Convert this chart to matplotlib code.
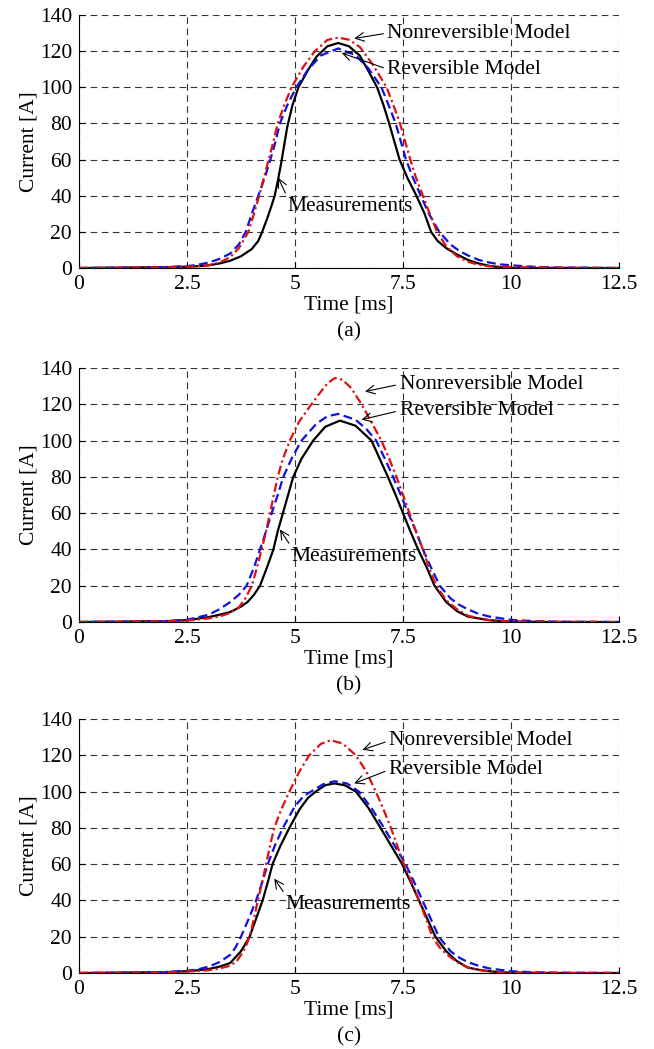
#!/usr/bin/env python3
# -*- coding: utf-8 -*-

import matplotlib
matplotlib.use("Agg")
import matplotlib.pyplot as plt

plt.rcParams['font.family'] = ['Liberation Serif', 'DejaVu Serif']
plt.rcParams['font.size'] = 15.5

# ---- panel (a) ----
a_meas_t = [0, 1, 2, 2.5, 2.75, 3.0, 3.25, 3.5, 3.75, 4.0, 4.15, 4.24, 4.35, 4.45, 4.53, 4.6,
            4.68, 4.75, 4.82, 4.94, 5.08, 5.3, 5.5, 5.75, 6.0, 6.25, 6.5, 6.7, 6.9, 7.05,
            7.18, 7.3, 7.42, 7.6, 7.81, 8.0, 8.15, 8.3, 8.5, 8.75, 9.0, 9.25, 9.5, 9.75,
            10, 11, 12.5]
a_meas_i = [0, 0.2, 0.5, 0.7, 1, 1.5, 2.5, 4, 6.5, 10.5, 15, 20, 27, 34, 40, 48,
            58, 68, 78, 90, 100, 109.5, 117, 122.7, 124.5, 122.7, 117.5, 109, 100, 90,
            80, 70, 60, 50, 40, 30, 20, 15, 11, 7.5, 4.5, 2.5, 1.2, 0.4,
            0, 0, 0]
a_nonrev_t = [0, 1, 2, 2.5, 3.0, 3.25, 3.5, 3.7, 3.8, 3.92, 4.05, 4.17, 4.28, 4.39, 4.5,
              4.6, 4.75, 4.92, 5.2, 5.45, 5.75, 6.0, 6.25, 6.5, 6.8, 7.12, 7.28, 7.43,
              7.55, 7.67, 7.8, 7.96, 8.12, 8.29, 8.5, 8.75, 9.0, 9.25, 9.5, 10, 11, 12.5]
a_nonrev_i = [0, 0.2, 0.4, 0.7, 1.5, 3, 6, 11, 15, 20, 30, 40, 50, 60, 70,
              80, 90, 100, 111.6, 119.7, 126.2, 127.5, 126.3, 122.3, 112.6, 100, 90, 80,
              70, 60, 50, 40, 30, 20, 12, 6.5, 3.5, 1.8, 1, 0.5, 0.2, 0]
a_rev_t = [0, 1, 2, 2.5, 2.75, 3.0, 3.25, 3.5, 3.7, 3.86, 4.0, 4.15, 4.3, 4.43, 4.55,
           4.65, 4.82, 5.03, 5.3, 5.6, 6.0, 6.4, 6.7, 7.0, 7.17, 7.33, 7.45, 7.57, 7.73,
           7.91, 8.1, 8.34, 8.6, 8.8, 9.0, 9.25, 9.5, 9.75, 10, 10.5, 11, 12.5]
a_rev_i = [0, 0.2, 0.5, 1, 1.8, 3, 5, 8, 13, 20, 30, 40, 50, 60, 70,
           80, 90, 100, 109.7, 117.6, 121.5, 117.8, 110.4, 100, 90, 80, 70, 60, 50,
           40, 30, 20, 13, 9.5, 7, 4.5, 3, 2, 1.5, 0.7, 0.3, 0]

# ---- panel (b) ----
b_meas_t = [0, 1, 2, 2.5, 3.0, 3.25, 3.5, 3.75, 3.9, 4.05, 4.19, 4.35, 4.5, 4.6, 4.72,
            4.84, 4.96, 5.15, 5.42, 5.7, 6.04, 6.4, 6.77, 6.96, 7.15, 7.33, 7.5, 7.67,
            7.85, 8.05, 8.23, 8.5, 8.75, 9.0, 9.5, 10, 11, 12.5]
b_meas_i = [0, 0.2, 0.5, 1, 2.7, 4, 5.5, 8.5, 11, 15, 20, 30, 40, 50, 60,
            70, 80, 90, 100, 107.6, 111, 108.2, 100, 90, 80, 70, 60, 50,
            40, 30, 20, 11, 6, 3, 1, 0.2, 0, 0]
b_nonrev_t = [0, 1, 2, 2.5, 3.0, 3.25, 3.5, 3.7, 3.85, 4.0, 4.12, 4.23, 4.33, 4.42, 4.51,
              4.6, 4.72, 4.88, 5.1, 5.38, 5.6, 5.75, 5.92, 6.1, 6.3, 6.54, 6.75, 7.0,
              7.18, 7.35, 7.5, 7.65, 7.8, 7.96, 8.1, 8.27, 8.5, 8.75, 9.0, 9.25, 9.5,
              10, 11, 12.5]
b_nonrev_i = [0, 0.2, 0.4, 0.8, 2, 3, 5, 8, 13, 20, 30, 40, 50, 60, 70,
              80, 90, 100, 110.6, 120, 127, 131.5, 134.5, 133.5, 129, 120, 111, 100,
              90, 80, 70, 60, 50, 40, 30, 20, 12, 7, 3.5, 2, 1,
              0.3, 0.1, 0]
b_rev_t = [0, 1, 2, 2.5, 3.0, 3.25, 3.5, 3.7, 3.88, 4.05, 4.19, 4.33, 4.46, 4.6, 4.73,
           4.92, 5.15, 5.5, 5.75, 6.0, 6.4, 6.65, 6.88, 7.08, 7.27, 7.45, 7.62, 7.8,
           7.96, 8.15, 8.35, 8.6, 8.8, 9.0, 9.25, 9.5, 10, 10.5, 11, 12.5]
b_rev_i = [0, 0.2, 0.5, 1.2, 4, 7, 11, 15, 20, 30, 40, 50, 60, 70, 80,
           90, 100, 109.4, 113.4, 114.7, 111.5, 106.4, 100, 90, 80, 70, 60, 50,
           40, 30, 20, 13, 9.5, 7, 4.5, 3, 1.2, 0.5, 0.2, 0]

# ---- panel (c) ----
c_meas_t = [0, 1, 2, 2.5, 2.75, 3.0, 3.25, 3.5, 3.75, 3.95, 4.1, 4.25, 4.37, 4.48, 4.66,
            4.87, 5.1, 5.3, 5.48, 5.7, 5.91, 6.15, 6.41, 6.7, 6.98, 7.23, 7.48, 7.68,
            7.87, 8.06, 8.25, 8.5, 8.75, 9.0, 9.25, 9.5, 9.75, 10, 11, 12.5]
c_meas_i = [0, 0.2, 0.5, 1, 1.5, 2.2, 3.5, 5.5, 12, 20, 30, 40, 50, 60, 70,
            80, 90, 96.5, 100, 103.5, 104.5, 103.5, 100, 91, 80, 70, 60, 50,
            40, 30, 20, 12, 6.5, 3, 1.8, 1, 0.4, 0.2, 0, 0]
c_nonrev_t = [0, 1, 2, 2.5, 3.0, 3.25, 3.5, 3.65, 3.75, 3.85, 3.95, 4.05, 4.14, 4.24, 4.33,
              4.42, 4.52, 4.68, 4.87, 5.1, 5.33, 5.6, 5.83, 6.1, 6.41, 6.65, 6.87, 7.05,
              7.22, 7.37, 7.52, 7.7, 7.87, 8.03, 8.18, 8.35, 8.5, 8.75, 9.0, 9.25, 9.5,
              10, 11, 12.5]
c_nonrev_i = [0, 0.2, 0.4, 0.8, 1.5, 2.5, 4, 6.5, 10, 14, 20, 30, 40, 50, 60,
              70, 80, 90, 100, 111, 120, 126.3, 128.3, 126.5, 120, 111, 100, 90,
              80, 70, 60, 50, 40, 30, 20, 14, 10.5, 6, 3, 1.6, 0.8,
              0.2, 0, 0]
c_rev_t = [0, 1, 2, 2.5, 2.75, 3.0, 3.25, 3.5, 3.62, 3.75, 3.93, 4.1, 4.24, 4.37, 4.53,
           4.72, 5.0, 5.2, 5.37, 5.65, 5.91, 6.2, 6.48, 6.78, 7.06, 7.31, 7.56, 7.76,
           7.95, 8.14, 8.33, 8.6, 8.8, 9.0, 9.25, 9.5, 10, 10.5, 11, 12.5]
c_rev_i = [0, 0.2, 0.5, 1.2, 2, 3.5, 6, 10, 14, 20, 30, 40, 50, 60, 70,
           80, 92, 97.5, 100, 104, 105.7, 104.5, 100, 90.5, 80, 70, 60, 50,
           40, 30, 20, 12, 8.5, 6, 4, 2.5, 1, 0.4, 0.2, 0]

x_ticks = [0, 2.5, 5, 7.5, 10, 12.5]
x_tick_labels = ["0", "2.5", "5", "7.5", "10", "12.5"]
y_ticks = [0, 20, 40, 60, 80, 100, 120, 140]

# annotation (text position, arrow tip) per panel
a_notes = [("Nonreversible Model", (7.14, 130), (6.37, 127)),
           ("Reversible Model", (7.14, 110), (6.08, 119)),
           ("Measurements", (4.82, 34), (4.61, 50))]
b_notes = [("Nonreversible Model", (7.42, 131), (6.62, 127)),
           ("Reversible Model", (7.42, 116.5), (6.54, 111.5)),
           ("Measurements", (4.92, 36), (4.65, 51))]
c_notes = [("Nonreversible Model", (7.18, 128), (6.56, 123)),
           ("Reversible Model", (7.18, 112), (6.37, 104.5)),
           ("Measurements", (4.79, 37.5), (4.52, 52))]


def plot_panel(ax, meas, nonrev, rev, notes, tag):

    ax.plot(meas[0], meas[1], color="k", lw=1.6, ls="-", zorder=3)
    ax.plot(rev[0], rev[1], color="#1010e0", lw=1.6, ls=(0, (4, 2)), zorder=4)
    ax.plot(nonrev[0], nonrev[1], color="#e01010", lw=1.6, ls=(0, (4, 1.5, 1, 1.5)), zorder=5)

    ax.set_xlim(0, 12.5)
    ax.set_ylim(0, 140)
    ax.set_xticks(x_ticks)
    ax.set_xticklabels(x_tick_labels)
    ax.set_yticks(y_ticks)

    ax.grid(True, color="0.2", ls=(0, (6, 4)), lw=0.8)
    ax.spines["top"].set_visible(False)
    ax.spines["right"].set_visible(False)
    ax.tick_params(direction="in", length=4, width=0.8, pad=5)

    ax.set_xlabel("Time [ms]", labelpad=1)
    ax.set_ylabel("Current [A]", labelpad=1)

    for text, txy, tip in notes:
        relpos = (0.0, 1.0) if text == "Measurements" else (0.0, 0.5)
        ax.annotate(text, xy=tip, xytext=txy, ha="left", va="center",
                    arrowprops=dict(arrowstyle="->", color="k", lw=0.8,
                                    shrinkA=1, shrinkB=0, relpos=relpos),
                    zorder=6)

    bb = ax.get_position()
    ax.figure.text(bb.x0 + bb.width / 2, bb.y0 - 64 / 1049, tag,
                   ha="center", va="center")


if __name__ == "__main__":

    fig = plt.figure(figsize=(6.54, 10.49), dpi=100)

    left = 79 / 654
    width = 540 / 654
    height = 254 / 1049
    ax_a = fig.add_axes([left, 1 - 268 / 1049, width, 253 / 1049])
    ax_b = fig.add_axes([left, 1 - 622 / 1049, width, height])
    ax_c = fig.add_axes([left, 1 - 973 / 1049, width, height])

    plot_panel(ax_a, (a_meas_t, a_meas_i), (a_nonrev_t, a_nonrev_i),
               (a_rev_t, a_rev_i), a_notes, "(a)")
    plot_panel(ax_b, (b_meas_t, b_meas_i), (b_nonrev_t, b_nonrev_i),
               (b_rev_t, b_rev_i), b_notes, "(b)")
    plot_panel(ax_c, (c_meas_t, c_meas_i), (c_nonrev_t, c_nonrev_i),
               (c_rev_t, c_rev_i), c_notes, "(c)")

    fig.savefig("out.png", dpi=100)
    plt.close()
